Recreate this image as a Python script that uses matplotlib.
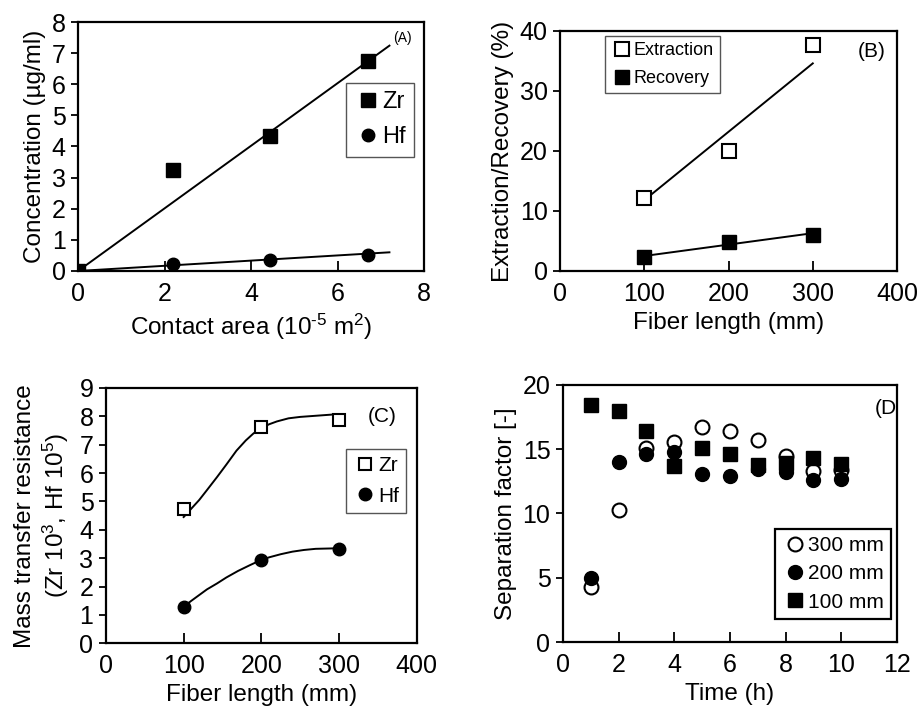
import matplotlib
matplotlib.use("Agg")
import matplotlib.pyplot as plt

plt.rcParams['font.family'] = ['Liberation Sans', 'DejaVu Sans']
plt.rcParams['mathtext.fontset'] = 'custom'
plt.rcParams['mathtext.rm'] = 'Liberation Sans'
plt.rcParams['mathtext.it'] = 'Liberation Sans'
plt.rcParams['mathtext.default'] = 'regular'

# (A) concentration vs contact area
area = [0, 2.2, 4.45, 6.7]
zr_conc = [0, 3.25, 4.35, 6.75]
hf_conc = [0, 0.22, 0.35, 0.52]
fit_area = [0, 7.2]
zr_fit = [0, 7.24]
hf_fit = [0, 0.6]

# (B) extraction / recovery vs fiber length
length = [100, 200, 300]
extraction = [12.2, 20.0, 37.6]
recovery = [2.4, 4.8, 6.0]
ext_fit = [11.8, 34.6]
rec_fit = [2.5, 6.3]
fit_len = [100, 300]

# (C) mass transfer resistance vs fiber length (curves)
zr_res = [4.72, 7.63, 7.87]
hf_res = [1.29, 2.92, 3.34]
zr_curve_x = [100, 110, 120, 130, 143, 155, 168, 180, 190, 200, 210, 220, 235, 250, 270, 300]
zr_curve_y = [4.45, 4.75, 5.05, 5.4, 5.86, 6.3, 6.79, 7.15, 7.4, 7.58, 7.72, 7.82, 7.93, 7.98, 8.02, 8.08]
hf_curve_x = [100, 110, 120, 130, 143, 155, 170, 185, 196, 210, 225, 240, 255, 270, 300]
hf_curve_y = [1.29, 1.5, 1.7, 1.9, 2.11, 2.32, 2.55, 2.75, 2.89, 3.03, 3.14, 3.23, 3.29, 3.33, 3.35]

# (D) separation factor vs time
hours = [1, 2, 3, 4, 5, 6, 7, 8, 9, 10]
sf_300 = [4.3, 10.3, 15.1, 15.6, 16.7, 16.4, 15.7, 14.5, 13.3, 13.4]
sf_200 = [5.0, 14.0, 14.6, 14.75, 13.1, 12.9, 13.5, 13.2, 12.6, 12.7]
sf_100 = [18.45, 18.0, 16.4, 13.7, 15.1, 14.6, 13.8, 13.9, 14.3, 13.85]

fig = plt.figure(figsize=(9.19, 7.12), dpi=100)
axA = fig.add_axes([0.0849, 0.6194, 0.3765, 0.3497])
axB = fig.add_axes([0.6094, 0.6194, 0.3667, 0.3371])
axC = fig.add_axes([0.1153, 0.0965, 0.3381, 0.3586])
axD = fig.add_axes([0.6126, 0.0983, 0.3634, 0.3610])

fs = 17.5
tfs = 18
for ax in (axA, axB, axC, axD):
    for s in ax.spines.values():
        s.set_linewidth(1.6)
    ax.tick_params(axis='x', direction='in', length=7, width=1.3, labelsize=tfs, pad=8)
    ax.tick_params(axis='y', direction='out', length=5, width=1.3, labelsize=tfs, pad=4)


def boxed_legend(ax, loc, anchor, size, edge, lw, spacing):
    leg = ax.legend(loc=loc, bbox_to_anchor=anchor, fontsize=size, handletextpad=0.0,
                    handlelength=1.2, labelspacing=spacing, fancybox=False, borderpad=0.35,
                    borderaxespad=0, framealpha=1)
    leg.get_frame().set_edgecolor(edge)
    leg.get_frame().set_linewidth(lw)
    return leg


# A
axA.plot(fit_area, zr_fit, color='black', lw=1.4)
axA.plot(fit_area, hf_fit, color='black', lw=1.4)
axA.plot(area, zr_conc, 's', color='black', ms=10, label='Zr')
axA.plot(area, hf_conc, 'o', color='black', ms=9, label='Hf')
axA.set_xlim(0, 8)
axA.set_ylim(0, 8)
axA.set_xticks([0, 2, 4, 6, 8])
axA.set_yticks(range(9))
axA.set_xlabel('Contact area (10$^{\u20105}$ m$^{2}$)', fontsize=fs)
axA.set_ylabel('Concentration (\u00b5g/ml)', fontsize=fs)
axA.text(7.5, 7.5, '(A)', fontsize=10, ha='center', va='center')
boxed_legend(axA, 'upper right', (0.971, 0.755), 17, '#555555', 1.0, 0.55)

# B
axB.plot(fit_len, ext_fit, color='black', lw=1.4)
axB.plot(fit_len, rec_fit, color='black', lw=1.4)
axB.plot(length, extraction, 's', mfc='white', mec='black', mew=1.5, ms=10, label='Extraction')
axB.plot(length, recovery, 's', color='black', ms=10, label='Recovery')
axB.set_xlim(0, 400)
axB.set_ylim(0, 40)
axB.set_xticks([0, 100, 200, 300, 400])
axB.set_yticks([0, 10, 20, 30, 40])
axB.set_xlabel('Fiber length (mm)', fontsize=fs)
axB.set_ylabel('Extraction/Recovery (%)', fontsize=fs)
axB.text(370, 36.5, '(B)', fontsize=15, ha='center', va='center')
boxed_legend(axB, 'upper left', (0.134, 0.98), 13, '#555555', 1.0, 0.6)

# C
axC.plot(zr_curve_x, zr_curve_y, color='black', lw=1.4)
axC.plot(hf_curve_x, hf_curve_y, color='black', lw=1.4)
axC.plot(length, zr_res, 's', mfc='white', mec='black', mew=1.5, ms=9, label='Zr')
axC.plot(length, hf_res, 'o', color='black', ms=9, label='Hf')
axC.set_xlim(0, 400)
axC.set_ylim(0, 9)
axC.set_xticks([0, 100, 200, 300, 400])
axC.set_yticks(range(10))
axC.set_xlabel('Fiber length (mm)', fontsize=fs)
axC.set_ylabel('Mass transfer resistance\n(Zr 10$^{3}$, Hf 10$^{5}$)', fontsize=fs, labelpad=6)
axC.text(355, 8.0, '(C)', fontsize=15, ha='center', va='center')
boxed_legend(axC, 'upper right', (0.966, 0.761), 15, '#555555', 1.0, 0.55)

# D
axD.plot(hours, sf_300, 'o', mfc='white', mec='black', mew=1.5, ms=10, label='300 mm')
axD.plot(hours, sf_200, 'o', color='black', ms=10, label='200 mm')
axD.plot(hours, sf_100, 's', color='black', ms=10, label='100 mm')
axD.set_xlim(0, 12)
axD.set_ylim(0, 20)
axD.set_xticks([0, 2, 4, 6, 8, 10, 12])
axD.set_yticks([0, 5, 10, 15, 20])
axD.set_xlabel('Time (h)', fontsize=fs)
axD.set_ylabel('Separation factor [-]', fontsize=fs)
axD.text(11.2, 18.2, '(D', fontsize=15, ha='left', va='center')
boxed_legend(axD, 'lower right', (0.982, 0.09), 15, 'black', 1.6, 0.45)

fig.savefig('out.png', dpi=100)
